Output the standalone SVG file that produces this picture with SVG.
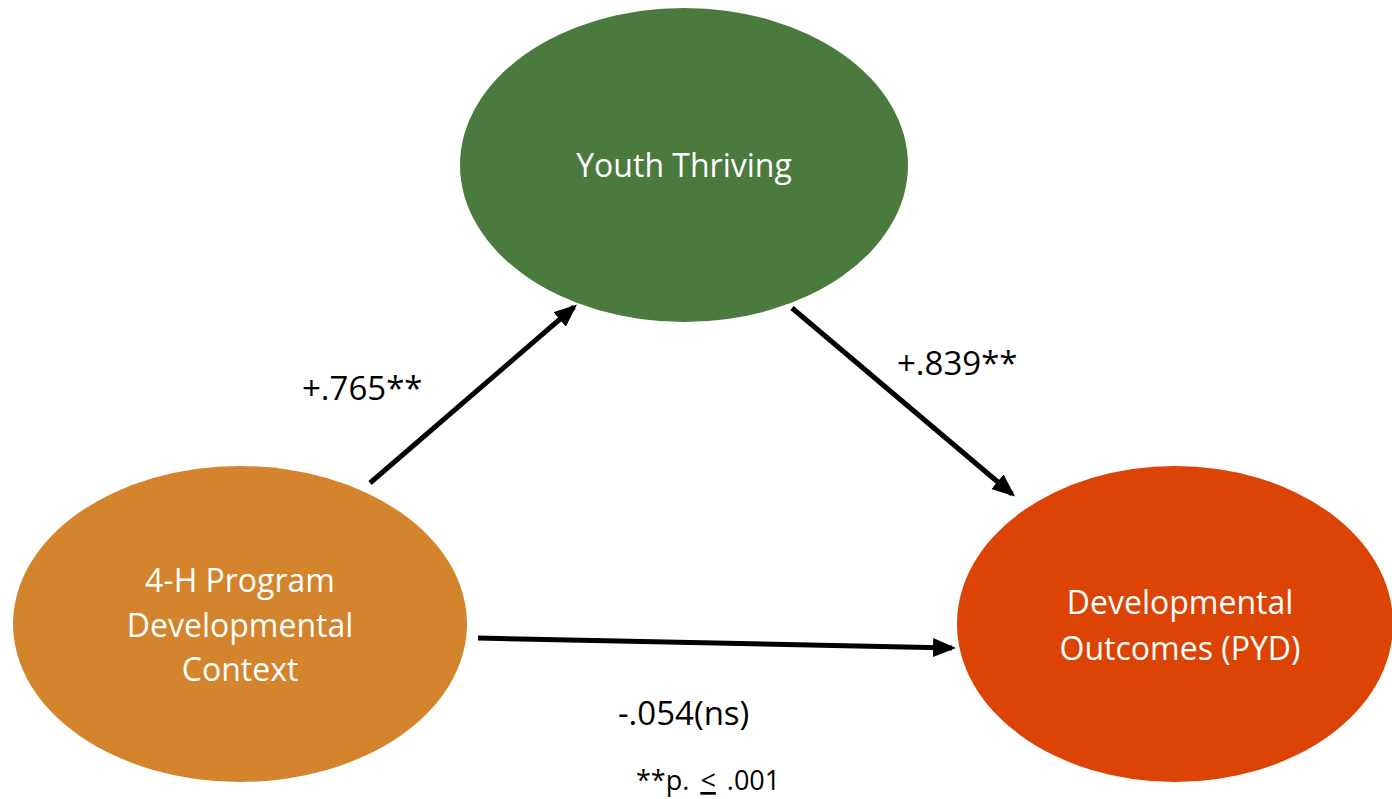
<svg xmlns="http://www.w3.org/2000/svg" width="1392" height="799" viewBox="0 0 1392 799">
<style>
.node-label{font-family:"Open Sans","Liberation Sans",sans-serif;font-size:32px;fill:#ffffff;text-anchor:middle}
.edge-label{font-family:"Open Sans","Liberation Sans",sans-serif;font-size:33px;fill:#000000}
.note{font-family:"Open Sans","Liberation Sans",sans-serif;font-size:27px;word-spacing:4px;fill:#000000}
.conn{stroke:#000;stroke-width:5;fill:none;marker-end:url(#ah)}
</style>
<defs>
<marker id="ah" markerWidth="4.6" markerHeight="3.8" refX="3.8" refY="1.9" orient="auto" markerUnits="strokeWidth">
<path d="M0,0 L4.6,1.9 L0,3.8 Z" fill="#000"/>
</marker>
</defs>
<rect width="1392" height="799" fill="#ffffff"/>
<g id="youth-thriving">
<ellipse cx="684" cy="165" rx="224" ry="157" fill="#4a7a3d"/>
<text class="node-label" x="684" y="177">Youth Thriving</text>
</g>
<g id="program-context">
<ellipse cx="240" cy="624" rx="227" ry="158" fill="#d4842c"/>
<text class="node-label" x="240" y="592">4-H Program</text>
<text class="node-label" x="240" y="637">Developmental</text>
<text class="node-label" x="240" y="681">Context</text>
</g>
<g id="outcomes">
<ellipse cx="1175" cy="624" rx="218" ry="158" fill="#dc4405"/>
<text class="node-label" x="1180" y="614">Developmental</text>
<text class="node-label" x="1180" y="660">Outcomes (PYD)</text>
</g>
<g id="connectors">
<line class="conn" x1="370" y1="483" x2="574" y2="307"/>
<line class="conn" x1="792" y1="308" x2="1012" y2="494"/>
<line class="conn" x1="478" y1="638" x2="952" y2="648"/>
</g>
<g id="labels">
<text class="edge-label" x="302" y="400">+.765**</text>
<text class="edge-label" x="897" y="375">+.839**</text>
<text class="edge-label" x="618" y="725">-.054(ns)</text>
<text class="note" x="636" y="790">**p. <tspan text-decoration="underline">&lt;</tspan> .001</text>
</g>
</svg>
